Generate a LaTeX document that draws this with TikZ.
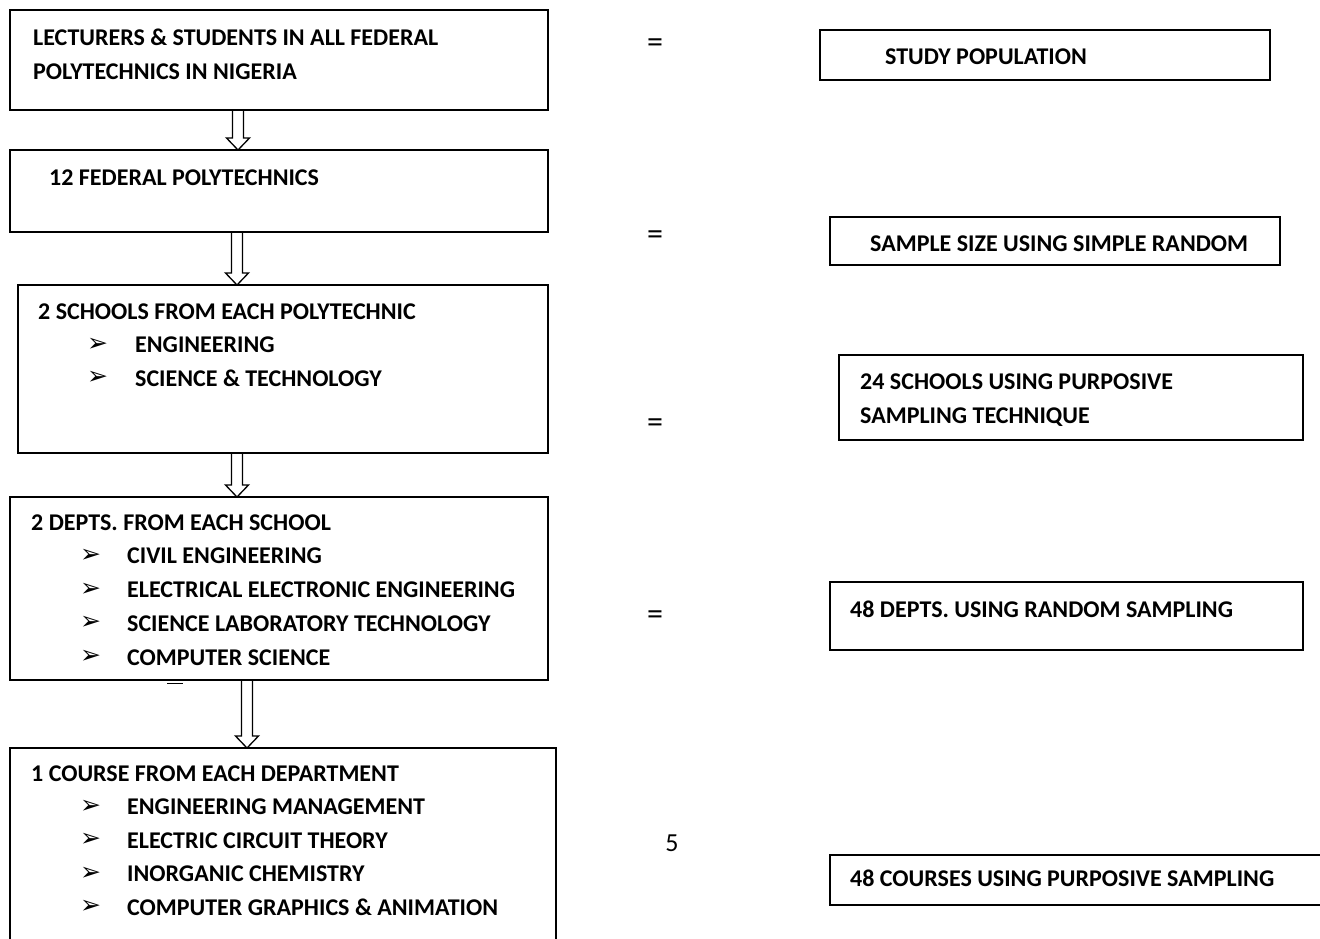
\documentclass[tikz,border=0pt]{standalone}
\usepackage{fontspec}
\setmainfont{Carlito}
\newfontfamily\symfont{DejaVu Sans}
\usetikzlibrary{calc}

\tikzset{
  box/.style={draw, line width=1.3pt, anchor=north west, inner sep=0pt, outer sep=0pt},
  txt/.style={anchor=base west, inner sep=0pt, font=\fontsize{24}{28}\selectfont\bfseries},
  tick/.style={anchor=west, inner sep=0pt, font=\fontsize{25}{28}\selectfont\symfont},
  eq/.style={inner sep=0pt, font=\fontsize{32}{36}\selectfont},
  hollow/.style={line width=1.3pt, line join=miter}
}

% hollow block arrow from #1 down to #2
\newcommand\blockarrow[2]{%
  \draw[hollow] let \p1=(#1), \p2=(#2) in
    (\x1-5.5pt,\y1) -- (\x1-5.5pt,\y2+12pt) -- (\x1-11.5pt,\y2+12pt) -- (\x1,\y2)
    -- (\x1+11.5pt,\y2+12pt) -- (\x1+5.5pt,\y2+12pt) -- (\x1+5.5pt,\y1) -- cycle;}

\begin{document}
\begin{tikzpicture}[x=1pt,y=-1pt]
\useasboundingbox (0,0) rectangle (1320,938);

% Stufen links
\node[box, minimum width=538pt, minimum height=100pt] (pop) at (10,10) {};
\node[box, minimum width=538pt, minimum height=82pt] (poly) at (10,150) {};
\node[box, minimum width=530pt, minimum height=168pt] (school) at (18,285) {};
\node[box, minimum width=538pt, minimum height=183pt] (dept) at (10,497) {};
\node[box, minimum width=546pt, minimum height=230pt] (course) at (10,748) {};

\node[txt] (popA) at (33,45) {LECTURERS \& STUDENTS IN ALL FEDERAL};
\node[txt] (popB) at (33,79) {POLYTECHNICS IN NIGERIA};
\node[txt] (polyA) at (49,185) {12 FEDERAL POLYTECHNICS};

\node[txt] (schoolA) at (38,319) {2 SCHOOLS FROM EACH POLYTECHNIC};
\foreach \t [count=\i] in {ENGINEERING, SCIENCE \& TECHNOLOGY} {
  \node[tick] (schoolT\i) at (87,311+33.5*\i) {➢};
  \node[txt] (schoolI\i) at (135,319+33.5*\i) {\t};
}

\node[txt] (deptA) at (31,530) {2 DEPTS. FROM EACH SCHOOL};
\foreach \t [count=\i] in {CIVIL ENGINEERING, ELECTRICAL ELECTRONIC ENGINEERING,
    SCIENCE LABORATORY TECHNOLOGY, COMPUTER SCIENCE} {
  \node[tick] (deptT\i) at (80,522+33.75*\i) {➢};
  \node[txt] (deptI\i) at (127,530+33.75*\i) {\t};
}
\draw[line width=1pt] (167,683) -- (183,683);

\node[txt] (courseA) at (31,781) {1 COURSE FROM EACH DEPARTMENT};
\foreach \t [count=\i] in {ENGINEERING MANAGEMENT, ELECTRIC CIRCUIT THEORY,
    INORGANIC CHEMISTRY, COMPUTER GRAPHICS \& ANIMATION} {
  \node[tick] (courseT\i) at (80,773+33.5*\i) {➢};
  \node[txt] (courseI\i) at (127,781+33.5*\i) {\t};
}

% Pfeile
\coordinate (a1) at (238,110);
\coordinate (a2) at (237,232);
\coordinate (a3) at (237,453);
\coordinate (a4) at (247,680);
\blockarrow{a1}{a1 |- poly.north}
\blockarrow{a2}{a2 |- school.north}
\blockarrow{a3}{a3 |- dept.north}
\blockarrow{a4}{a4 |- course.north}

% Gleichheitszeichen
\node[eq] (eq1) at (655,46) {=};
\node[eq] (eq2) at (655,238) {=};
\node[eq] (eq3) at (655,426) {=};
\node[eq] (eq4) at (655,618) {=};
\node[eq, font=\fontsize{26}{30}\selectfont] (num) at (672,843) {5};

% Stufen rechts
\node[box, minimum width=450pt, minimum height=50pt] (study) at (820,30) {};
\node[box, minimum width=450pt, minimum height=48pt] (size) at (830,217) {};
\node[box, minimum width=464pt, minimum height=85pt] (schools) at (839,355) {};
\node[box, minimum width=473pt, minimum height=68pt] (depts) at (830,582) {};
\node[box, minimum width=520pt, minimum height=50pt] (courses) at (830,855) {};

\node[txt] (studyA) at (885,64) {STUDY POPULATION};
\node[txt] (sizeA) at (870,251) {SAMPLE SIZE USING SIMPLE RANDOM};
\node[txt] (schoolsA) at (860,389) {24 SCHOOLS USING PURPOSIVE};
\node[txt] (schoolsB) at (860,423) {SAMPLING TECHNIQUE};
\node[txt] (deptsA) at (850,617) {48 DEPTS. USING RANDOM SAMPLING};
\node[txt] (coursesA) at (850,886) {48 COURSES USING PURPOSIVE SAMPLING};

\end{tikzpicture}
\end{document}
